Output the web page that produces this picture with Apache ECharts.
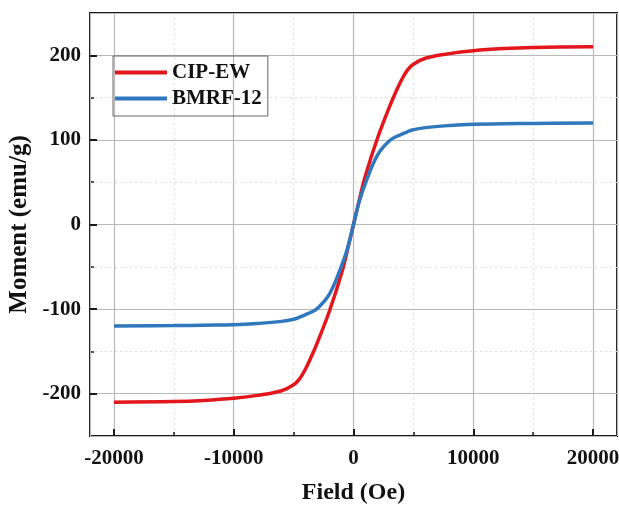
<!DOCTYPE html>
<html>
<head>
<meta charset="utf-8">
<script src="https://cdn.jsdelivr.net/npm/echarts@6/dist/echarts.min.js"></script>
<style>html,body{margin:0;padding:0;background:#fff}#c{width:619px;height:506px}</style>
</head>
<body>
<div id="c"></div>
<script>
const field = [-20000,-15000,-12500,-10000,-8000,-6000,-5000,-4500,-4000,-3500,-3000,-2000,-1000,-500,0,500,1000,2000,3000,3500,4000,4500,5000,6000,8000,10000,12500,15000,20000];
const cipEW = [-210,-209.3,-208,-205.5,-202,-196.5,-189.5,-182.5,-170.5,-155.5,-139,-102,-58,-30,0,30,58,102,139,155.5,170.5,182.5,189.5,196.5,202,205.5,208,209.3,210];
const bmrf12 = [-120,-119.5,-119,-118.5,-117,-114.5,-112,-109.5,-106.5,-103.5,-99,-82,-49,-28,0,28,49,82,99,103.5,106.5,109.5,112,114.5,117,118.5,119,119.5,120];
const seriesNames = ['CIP-EW','BMRF-12'];

const font = 'Liberation Serif';
const chart = echarts.init(document.getElementById('c'));
const pair = (xs, ys) => xs.map((x, i) => [x, ys[i]]);
chart.setOption({
  animation: false,
  backgroundColor: '#fff',
  grid: {left: 90, right: 2, top: 13, bottom: 70, show: true, borderColor: '#1a1a1a', borderWidth: 2, backgroundColor: 'transparent', outerBoundsMode: 'none', containLabel: false},
  legend: {
    data: seriesNames, orient: 'vertical', left: 113, top: 56,
    icon: 'rect', itemWidth: 52, itemHeight: 4, itemGap: 5,
    borderColor: '#666', borderWidth: 1, padding: [6, 6, 7, 2],
    textStyle: {fontFamily: font, fontWeight: 'bold', fontSize: 21, color: '#111', lineHeight: 21}
  },
  xAxis: [{
    type: 'value', min: -22000, max: 22000, z: 2,
    name: 'Field (Oe)', nameLocation: 'middle', nameGap: 45,
    nameTextStyle: {fontFamily: font, fontWeight: 'bold', fontSize: 24, color: '#111'},
    axisLine: {show: false, onZero: false},
    axisTick: {inside: true, length: 7, lineStyle: {color: '#1a1a1a', width: 2}},
    axisLabel: {showMinLabel: false, showMaxLabel: false, margin: 12, formatter: v => String(v), fontFamily: font, fontWeight: 'bold', fontSize: 21, color: '#111'},
    splitLine: {show: true, lineStyle: {color: '#b8b8b8', width: 1.2}}
  }, {
    type: 'value', min: -22000, max: 22000, splitNumber: 9, z: 1, position: 'bottom',
    axisLine: {show: false, onZero: false},
    axisTick: {inside: true, length: 4, lineStyle: {color: '#1a1a1a', width: 1.5}},
    axisLabel: {show: false},
    splitLine: {show: true, lineStyle: {color: '#dcdcdc', width: 1, type: [2, 3]}}
  }],
  yAxis: [{
    type: 'value', min: -250, max: 250, z: 2,
    name: 'Moment (emu/g)', nameLocation: 'middle', nameGap: 56,
    nameTextStyle: {fontFamily: font, fontWeight: 'bold', fontSize: 25, color: '#111'},
    axisLine: {show: false, onZero: false},
    axisTick: {inside: true, length: 7, lineStyle: {color: '#1a1a1a', width: 2}},
    axisLabel: {showMinLabel: false, showMaxLabel: false, margin: 9, fontFamily: font, fontWeight: 'bold', fontSize: 21, color: '#111'},
    splitLine: {show: true, lineStyle: {color: '#b8b8b8', width: 1.2}}
  }, {
    type: 'value', min: -250, max: 250, interval: 50, z: 1, position: 'left',
    axisLine: {show: false, onZero: false},
    axisTick: {inside: true, length: 4, lineStyle: {color: '#1a1a1a', width: 1.5}},
    axisLabel: {show: false},
    splitLine: {show: true, lineStyle: {color: '#dcdcdc', width: 1, type: [2, 3]}}
  }],
  series: [{
    name: seriesNames[0], type: 'line', data: pair(field, cipEW), smooth: 0.4,
    showSymbol: false, symbol: 'none', z: 4,
    lineStyle: {color: '#e3161c', width: 3.5}, itemStyle: {color: '#e3161c'}
  }, {
    name: seriesNames[1], type: 'line', data: pair(field, bmrf12), smooth: 0.4,
    showSymbol: false, symbol: 'none', z: 4,
    lineStyle: {color: '#2f78bd', width: 3.5}, itemStyle: {color: '#2f78bd'}
  }]
});
</script>
</body>
</html>
